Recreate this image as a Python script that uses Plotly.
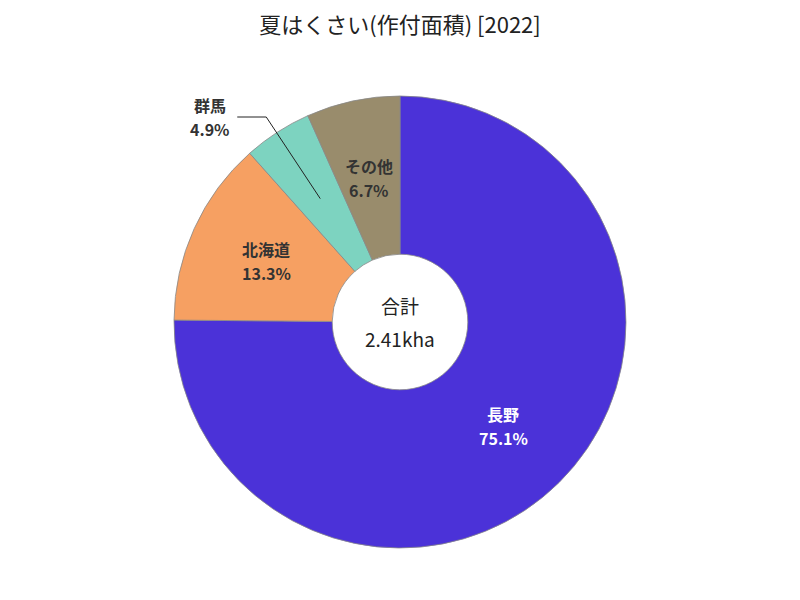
import math
import plotly.graph_objects as go

labels = ["長野", "北海道", "群馬", "その他"]
values = [1810, 320, 118, 161]  # ha
colors = ["#4b32d8", "#f6a062", "#7dd3c0", "#998c6c"]
text_colors = ["#ffffff", "#333333", "#333333", "#333333"]
outside = [False, False, True, False]
total_title = "合計"
total_value = "2.41kha"
title = "夏はくさい(作付面積) [2022]"

font_family = "Noto Sans CJK JP, Noto Sans, sans-serif"

W, H = 800, 600
CX, CY, R = 400, 322, 226
LABEL_R = 0.65 * R

fig = go.Figure(go.Pie(
    labels=labels,
    values=values,
    sort=False,
    direction="clockwise",
    rotation=0,
    hole=0.3,
    marker=dict(colors=colors, line=dict(color="#888888", width=0.8)),
    textinfo="none",
    domain=dict(x=[0, 1], y=[1 - (CY + R) / H, 1 - (CY - R) / H]),
    showlegend=False,
    hoverinfo="label+value+percent",
))

total = sum(values)
annotations = []
shapes = []
cum = 0.0
for lab, v, tc, out in zip(labels, values, text_colors, outside):
    frac = v / total
    mid = (cum + frac / 2) * 2 * math.pi
    cum += frac
    px = CX + LABEL_R * math.sin(mid)
    py = CY - LABEL_R * math.cos(mid)
    pct = f"{frac * 100:.1f}%"
    if out:
        elbow_x, elbow_y = px - 54, CY - 205
        end_x = elbow_x - 29
        path = (f"M {px / W} {1 - py / H} L {elbow_x / W} {1 - elbow_y / H} "
                f"L {end_x / W} {1 - elbow_y / H}")
        shapes.append(dict(type="path", path=path, xref="paper", yref="paper",
                           line=dict(color="#222222", width=1)))
        tx, ty = end_x - 27, elbow_y
    else:
        tx, ty = px, py
    for txt, dy in ((lab, -12), (pct, 12)):
        annotations.append(dict(
            text=f"<b>{txt}</b>", x=tx / W, y=1 - (ty + dy) / H,
            xref="paper", yref="paper", showarrow=False,
            xanchor="center", yanchor="middle",
            font=dict(size=16, color=tc, family=font_family)))

for txt, dy in ((total_title, -17), (total_value, 16)):
    annotations.append(dict(
        text=txt, x=CX / W, y=1 - (CY + dy) / H, xref="paper", yref="paper",
        showarrow=False, xanchor="center", yanchor="middle",
        font=dict(size=19, color="#222222", family=font_family)))

fig.update_layout(
    width=W, height=H,
    margin=dict(l=0, r=0, t=0, b=0),
    paper_bgcolor="white",
    title=dict(text=title, x=0.5, xanchor="center", y=1 - 25 / H, yanchor="middle",
               font=dict(size=22, color="#222222", family=font_family)),
    annotations=annotations,
    shapes=shapes,
)

fig.write_html("out.html")
